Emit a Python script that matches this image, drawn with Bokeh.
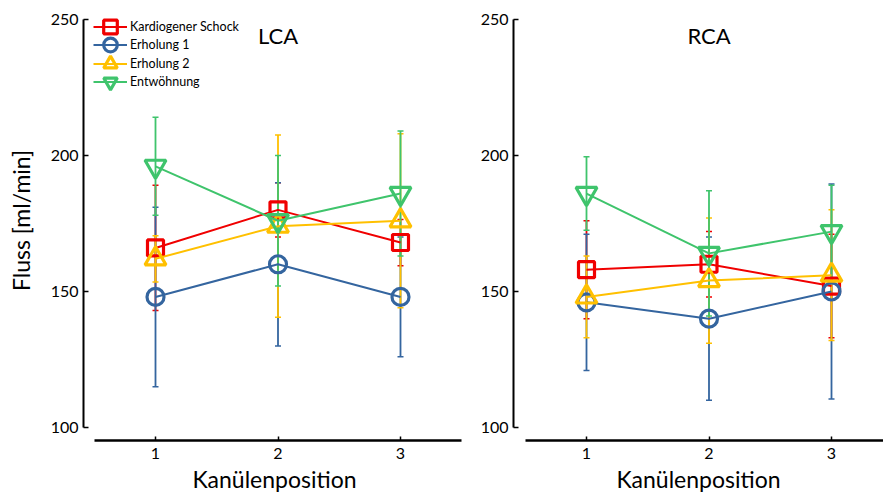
from bokeh.plotting import figure
from bokeh.layouts import row
from bokeh.models import (ColumnDataSource, Whisker, TeeHead, Legend, LegendItem,
                          Label, FixedTicker, Range1d)
from bokeh.embed import file_html
from bokeh.resources import INLINE

# Kanülenposition
positions = [1, 2, 3]
tick_values_y = [100, 150, 200, 250]

series_names = ["Kardiogener Schock", "Erholung 1", "Erholung 2", "Entwöhnung"]

# LCA: Mittelwert und Standardabweichung je Phase
lca_schock_mean = [166, 180, 168]
lca_schock_sd = [23, 10, 8.5]
lca_erholung1_mean = [148, 160, 148]
lca_erholung1_sd = [33, 30, 22]
lca_erholung2_mean = [162, 174, 176]
lca_erholung2_sd = [8.5, 33.5, 32]
lca_entwoehnung_mean = [196, 176, 186]
lca_entwoehnung_sd = [18, 24, 23]

# RCA: Mittelwert und Standardabweichung je Phase
rca_schock_mean = [158, 160, 152]
rca_schock_sd = [18, 12, 19]
rca_erholung1_mean = [146, 140, 150]
rca_erholung1_sd = [25, 30, 39.5]
rca_erholung2_mean = [148, 154, 156]
rca_erholung2_sd = [15, 23, 24]
rca_entwoehnung_mean = [186, 164, 172]
rca_entwoehnung_sd = [13.5, 23, 17]

colors = ["#F00000", "#34659F", "#FFC000", "#3FC46C"]
markers = ["square", "circle", "triangle", "inverted_triangle"]
marker_sizes = [16, 17, 21, 21]

FONT = "Lato"
PX_PER_X = 122.5
PX_PER_Y = 2.733
HEIGHT = 495
TOP_BORDER = 0
BOTTOM_BORDER = 53

# legend rows: vertical centre of each entry below the top of the panel
LEGEND_ROW_CENTERS = [28, 46.5, 65, 83.5]
LEGEND_GLYPH_H = 35


def make_panel(title, means, sds, width, border_left, x_start, with_ylabel, with_legend):
    frame_w = width - border_left
    frame_h = HEIGHT - TOP_BORDER - BOTTOM_BORDER
    y_top = 250 + 19 / PX_PER_Y
    y_bottom = y_top - frame_h / PX_PER_Y
    p = figure(width=width, height=HEIGHT,
               x_range=Range1d(x_start, x_start + frame_w / PX_PER_X),
               y_range=Range1d(y_bottom, y_top),
               output_backend="svg", toolbar_location=None,
               min_border_left=border_left, min_border_right=0,
               min_border_top=TOP_BORDER, min_border_bottom=BOTTOM_BORDER)
    p.outline_line_color = None
    p.xgrid.visible = False
    p.ygrid.visible = False
    p.background_fill_color = "white"
    p.border_fill_color = "white"

    # x axis, detached from the y axis
    p.xaxis.bounds = (0.5, 3.5)
    p.xaxis.ticker = FixedTicker(ticks=positions)
    p.xaxis.major_tick_in = 4
    p.xaxis.major_tick_out = 0
    p.xaxis.minor_tick_line_color = None
    p.xaxis.axis_line_width = 2.5
    p.xaxis.axis_line_color = "black"
    p.xaxis.major_tick_line_width = 1.5
    p.xaxis.major_label_text_font = FONT
    p.xaxis.major_label_text_font_size = "16px"
    p.xaxis.major_label_text_color = "black"
    p.xaxis.major_label_standoff = 7
    p.xaxis.axis_label = "Kanülenposition"
    p.xaxis.axis_label_text_font = FONT
    p.xaxis.axis_label_text_font_size = "23px"
    p.xaxis.axis_label_text_font_style = "normal"
    p.xaxis.axis_label_text_color = "black"
    p.xaxis.axis_label_standoff = 3

    # y axis limited to 100..250
    p.yaxis.bounds = (100, 250)
    p.yaxis.ticker = FixedTicker(ticks=tick_values_y)
    p.yaxis.major_tick_in = 5
    p.yaxis.major_tick_out = 0
    p.yaxis.minor_tick_line_color = None
    p.yaxis.axis_line_width = 2
    p.yaxis.axis_line_color = "black"
    p.yaxis.major_tick_line_width = 1.5
    p.yaxis.major_label_text_font = FONT
    p.yaxis.major_label_text_font_size = "16px"
    p.yaxis.major_label_text_color = "black"
    p.yaxis.major_label_standoff = 5
    if with_ylabel:
        p.yaxis.axis_label = "Fluss [ml/min]"
        p.yaxis.axis_label_text_font = FONT
        p.yaxis.axis_label_text_font_size = "23px"
        p.yaxis.axis_label_text_font_style = "normal"
        p.yaxis.axis_label_text_color = "black"
        p.yaxis.axis_label_standoff = 13

    items = []
    for name, mean, sd, color, marker, size in zip(series_names, means, sds,
                                                   colors, markers, marker_sizes):
        src = ColumnDataSource(dict(
            x=positions, y=mean,
            upper=[m + s for m, s in zip(mean, sd)],
            lower=[m - s for m, s in zip(mean, sd)],
        ))
        line_r = p.line("x", "y", source=src, line_color=color, line_width=2)
        whisker = Whisker(base="x", upper="upper", lower="lower", source=src,
                          dimension="height", line_color=color, line_width=1.8,
                          upper_head=TeeHead(size=6, line_color=color, line_width=1.5),
                          lower_head=TeeHead(size=6, line_color=color, line_width=1.5))
        p.add_layout(whisker)
        mark_r = p.scatter("x", "y", source=src, marker=marker, size=size,
                           line_color=color, line_width=3.2, fill_color=None)
        items.append(LegendItem(label=name, renderers=[line_r, mark_r]))

    if with_legend:
        # one single-entry legend per row, so that the rows sit close together
        # while the legend markers keep their full size
        for item, center in zip(items, LEGEND_ROW_CENTERS):
            bottom_offset = frame_h - (center - TOP_BORDER) - LEGEND_GLYPH_H / 2
            legend = Legend(items=[item], location=(10, bottom_offset))
            legend.margin = 0
            legend.padding = 0
            legend.spacing = 0
            legend.glyph_width = 34
            legend.glyph_height = LEGEND_GLYPH_H
            legend.label_height = 18
            legend.label_standoff = 3
            legend.label_text_font = FONT
            legend.label_text_font_size = "12.5px"
            legend.label_text_color = "black"
            legend.border_line_color = None
            legend.background_fill_alpha = 0
            p.add_layout(legend, "center")

    p.add_layout(Label(x=2, y=244, text=title, text_align="center",
                       text_baseline="middle", text_font=FONT,
                       text_font_size="22px", text_color="black"))
    return p


left = make_panel("LCA",
                  [lca_schock_mean, lca_erholung1_mean, lca_erholung2_mean, lca_entwoehnung_mean],
                  [lca_schock_sd, lca_erholung1_sd, lca_erholung2_sd, lca_entwoehnung_sd],
                  width=465, border_left=83, x_start=1 - 72 / PX_PER_X,
                  with_ylabel=True, with_legend=True)
right = make_panel("RCA",
                   [rca_schock_mean, rca_erholung1_mean, rca_erholung2_mean, rca_entwoehnung_mean],
                   [rca_schock_sd, rca_erholung1_sd, rca_erholung2_sd, rca_entwoehnung_sd],
                   width=418, border_left=48, x_start=1 - 73 / PX_PER_X,
                   with_ylabel=False, with_legend=False)

layout = row(left, right)
open("out.html", "w").write(file_html(layout, INLINE))
